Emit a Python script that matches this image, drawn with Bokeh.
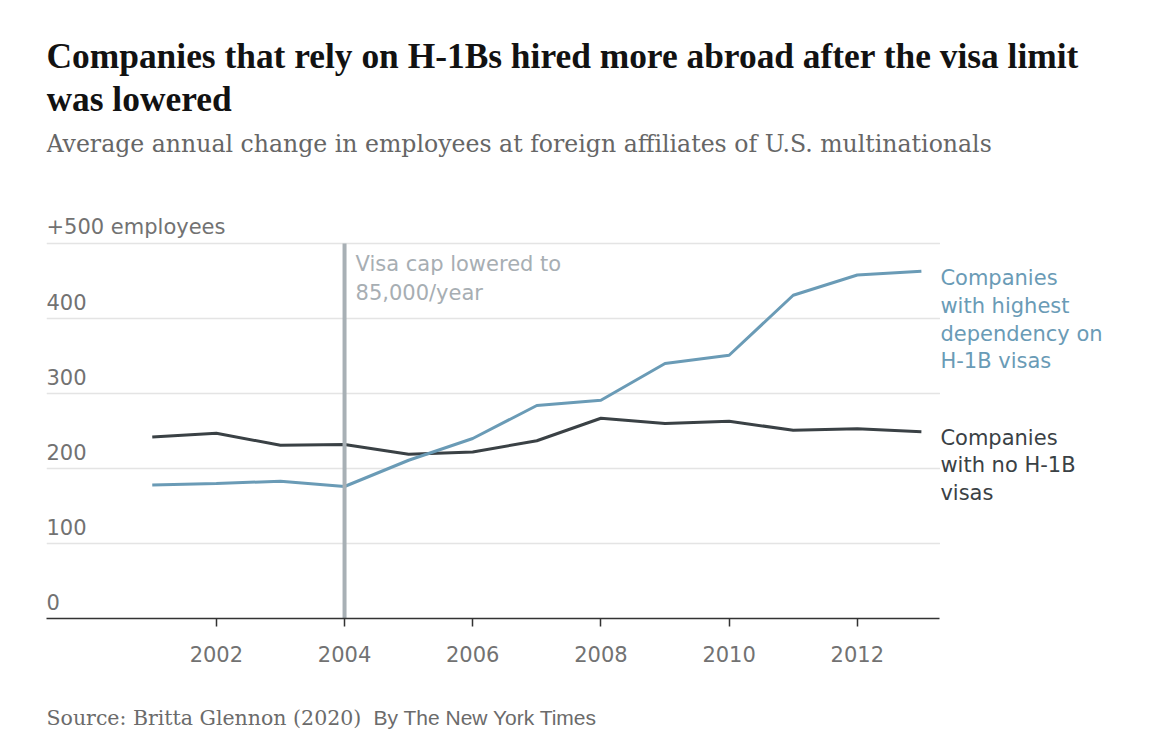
from bokeh.core.properties import value
from bokeh.embed import file_html
from bokeh.layouts import column
from bokeh.models import FixedTicker, Range1d
from bokeh.plotting import figure
from bokeh.resources import INLINE

years = list(range(2001, 2014))
highest_dependency = [178, 180, 183, 176, 211, 240, 284, 291, 340, 351, 431, 458, 463]
no_h1b = [242, 247, 231, 232, 219, 222, 237, 267, 260, 263, 251, 253, 249]

year_ticks = [2002, 2004, 2006, 2008, 2010, 2012]
value_ticks = [0, 100, 200, 300, 400, 500]
value_labels = ["0", "100", "200", "300", "400", "+500 employees"]

cap_year = 2004
cap_top = 500
cap_note = "Visa cap lowered to\n85,000/year"
high_label = "Companies\nwith highest\ndependency on\nH-1B visas"
none_label = "Companies\nwith no H-1B\nvisas"

TITLE_1 = "Companies that rely on H-1Bs hired more abroad after the visa limit"
TITLE_2 = "was lowered"
SUBTITLE = "Average annual change in employees at foreign affiliates of U.S. multinationals"
SOURCE = "Source: Britta Glennon (2020)"
CREDIT = "By The New York Times"

BLUE = "#6a9bb6"
DARK = "#3a4145"
GREY_TEXT = "#727272"
CAP_GREY = "#a8b0b5"
GRID = "#e4e4e4"
SANS = "DejaVu Sans"

W = 1134
HEADER_H = 198
MAIN_H = 482
FOOTER_H = 60
LEFT = 46
RIGHT = 8

X_START, X_END = 1999.35, 2016.2
AXIS_END = 2013.29


def text_panel(height):
    # bare figure in pixel units (its frame lines up with the chart's frame)
    f = figure(
        width=W,
        height=height,
        x_range=Range1d(LEFT, W - RIGHT),
        y_range=Range1d(height, 0),
        x_axis_location=None,
        y_axis_location=None,
        min_border=0,
        min_border_left=LEFT,
        min_border_right=RIGHT,
        output_backend="svg",
        toolbar_location=None,
    )
    f.outline_line_color = None
    f.grid.visible = False
    return f


header = text_panel(HEADER_H)
header.text(x=[LEFT, LEFT], y=[55, 98], text=[TITLE_1, TITLE_2],
            text_font=value("Liberation Serif"), text_font_style="bold",
            text_font_size="35.4px", text_color="#121212", text_baseline="middle")
header.text(x=[LEFT], y=[143], text=[SUBTITLE], text_font=value("DejaVu Serif"),
            text_font_size="23.6px", text_color="#666666", text_baseline="middle")

p = figure(
    width=W,
    height=MAIN_H,
    x_range=Range1d(X_START, X_END),
    y_range=Range1d(0, 560),
    y_axis_location=None,
    min_border_left=LEFT,
    min_border_right=RIGHT,
    min_border_top=0,
    min_border_bottom=MAIN_H - 420,
    output_backend="svg",
    toolbar_location=None,
)
p.outline_line_color = None
p.grid.visible = False

# x axis only as wide as the data
p.xaxis.ticker = FixedTicker(ticks=year_ticks)
p.xaxis.bounds = (X_START, AXIS_END)
p.xaxis.axis_line_color = "#333333"
p.xaxis.axis_line_width = 1.5
p.xaxis.major_tick_line_color = "#333333"
p.xaxis.major_tick_line_width = 1.5
p.xaxis.major_tick_in = 0
p.xaxis.major_tick_out = 8
p.xaxis.minor_tick_line_color = None
p.xaxis.major_label_standoff = 19
p.xaxis.major_label_text_font = SANS
p.xaxis.major_label_text_font_size = "21px"
p.xaxis.major_label_text_color = GREY_TEXT

# gridlines and value labels
p.segment(x0=X_START, x1=AXIS_END, y0=value_ticks[1:], y1=value_ticks[1:],
          line_color=GRID, line_width=1.5)
p.text(x=[X_START] * len(value_ticks), y=value_ticks, text=value_labels,
       text_font=value(SANS), text_font_size="21px", text_color=GREY_TEXT,
       text_baseline="alphabetic", y_offset=-17)

p.line(years, no_h1b, line_color=DARK, line_width=3)
p.line(years, highest_dependency, line_color=BLUE, line_width=3)

p.segment(x0=[cap_year], x1=[cap_year], y0=[0], y1=[cap_top],
          line_color=CAP_GREY, line_width=4)
p.text(x=[cap_year], y=[cap_top], text=[cap_note], x_offset=11, y_offset=8,
       text_font=value(SANS), text_font_size="21px", text_color="#a7aeb3",
       text_baseline="top", text_line_height=1.24)

p.text(x=[years[-1]], y=[highest_dependency[-1]], text=[high_label], x_offset=19, y_offset=-5,
       text_font=value(SANS), text_font_size="21px", text_color=BLUE,
       text_baseline="top", text_line_height=1.156)
p.text(x=[years[-1]], y=[no_h1b[-1]], text=[none_label], x_offset=19, y_offset=-6,
       text_font=value(SANS), text_font_size="21px", text_color=DARK,
       text_baseline="top", text_line_height=1.156)

footer = text_panel(FOOTER_H)
footer.text(x=[LEFT], y=[37], text=[SOURCE], text_font=value("DejaVu Serif"),
            text_font_size="20.5px", text_color="#6b6b6b", text_baseline="middle")
footer.text(x=[373], y=[37], text=[CREDIT], text_font=value("Liberation Sans"),
            text_font_size="21px", text_color="#6b6b6b", text_baseline="middle")

layout = column(header, p, footer)
open("out.html", "w").write(file_html(layout, INLINE))
